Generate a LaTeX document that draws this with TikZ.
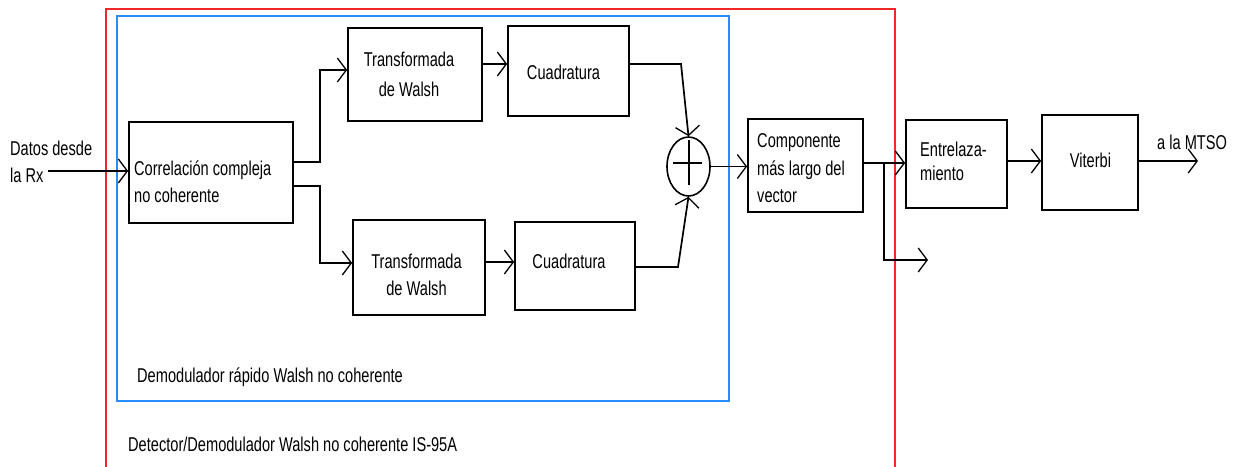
\documentclass[tikz,border=0pt]{standalone}
\usepackage{fontspec}
\newfontfamily\lbf[FakeStretch=0.73]{Liberation Sans}
\usetikzlibrary{arrows.meta,shapes.geometric}
\definecolor{redframe}{RGB}{240,40,40}
\definecolor{blueframe}{RGB}{40,140,255}
\begin{document}
\begin{tikzpicture}[x=1pt,y=-1pt,
  box/.style={draw, line width=1.7pt, inner sep=0pt},
  lbl/.style={font=\lbf\fontsize{20}{27}\selectfont, inner sep=0pt},
  ln/.style={line width=1.6pt},
  arr/.style={line width=1.7pt, -{Straight Barb[length=9pt,width=24pt,line width=1.3pt]}}]
\useasboundingbox (0,0) rectangle (1236,466);
% frames
\draw[redframe, line width=1.6pt] (106,470) -- (106,9) -- (895,9) -- (895,470);
\draw[blueframe, line width=1.6pt] (117,16) rectangle (729,401);
% boxes
\node[box, minimum width=164pt, minimum height=101pt] (corr) at (211,172.5) {};
\node[box, minimum width=134pt, minimum height=93pt] (tw1) at (415,74.5) {};
\node[box, minimum width=121pt, minimum height=90pt] (cu1) at (568.5,71) {};
\node[box, minimum width=132pt, minimum height=95pt] (tw2) at (419,267.5) {};
\node[box, minimum width=120pt, minimum height=88pt] (cu2) at (575,266) {};
\node[draw, line width=1.6pt, ellipse, inner sep=0pt, minimum width=43pt, minimum height=59pt] (sum) at (688.5,166.5) {};
\node[box, minimum width=115pt, minimum height=93pt] (comp) at (805.5,165.5) {};
\node[box, minimum width=101pt, minimum height=88pt] (ent) at (956.5,164) {};
\node[box, minimum width=96pt, minimum height=95pt] (vit) at (1090,162.5) {};
% plus sign
\draw[ln] ([shift={(-15.5,-3.5)}]sum.center) -- ([shift={(13.5,-3.5)}]sum.center);
\draw[ln] ([shift={(0.5,-26.5)}]sum.center) -- ([shift={(0.5,18.5)}]sum.center);
% labels
\node[lbl, anchor=north west, align=left] (datos) at (10,140.5) {Datos desde\\la Rx};
\node[lbl, anchor=north west, align=left] (corrT) at (134,160.5) {Correlación compleja\\no coherente};
\node[lbl, anchor=north, align=center] (tw1T) at (409,51.5) {Transformada\\[3pt]de Walsh};
\node[lbl, anchor=base] (cu1T) at (563.5,79) {Cuadratura};
\node[lbl, anchor=north, align=center] (tw2T) at (416.5,253.5) {Transformada\\de Walsh};
\node[lbl, anchor=base] (cu2T) at (569,268) {Cuadratura};
\node[lbl, anchor=north west, align=left] (compT) at (757,133.5) {Componente\\[1pt]más largo del\\vector};
\node[lbl, anchor=north west, align=left] (entT) at (920,141.5) {Entrelaza-\\[-3pt]miento};
\node[lbl, anchor=base] (vitT) at (1090.5,167) {Viterbi};
\node[lbl, anchor=base west] (mtso) at (1157,149) {a la MTSO};
\node[lbl, anchor=base west] (demod) at (137,382) {Demodulador rápido Walsh no coherente};
\node[lbl, anchor=base west] (det) at (128,451) {Detector/Demodulador Walsh no coherente IS-95A};
% connector helper coordinates
\coordinate (src) at (48,171);
\coordinate (j1) at (320,162);
\coordinate (j2) at (320,186);
\coordinate (k1) at (681,64);
\coordinate (k2) at (678,267);
\coordinate (br) at (884,163);
\coordinate (out2) at (928,260);
\coordinate (out1) at (1198,161);
% connectors
\draw[arr] (src) -- (src -| corr.west);
\draw[arr] (corr.east |- j1) -- (j1) |- (tw1.west |- 0,70);
\draw[arr] (corr.east |- j2) -- (j2) |- (tw2.west |- 0,263);
\draw[arr] (tw1.east |- 0,64) -- (cu1.west |- 0,64);
\draw[arr] (tw2.east |- 0,262) -- (cu2.west |- 0,262);
\draw[arr] (cu1.east |- k1) -- (k1) -- (sum.north);
\draw[arr] (cu2.east |- k2) -- (k2) -- (sum.south);
\draw[arr] (sum.east) -- (sum.east -| comp.west);
\draw[arr] (comp.east |- br) -- (br -| ent.west);
\draw[arr] (br) |- (out2);
\draw[arr] (ent.east |- 0,161) -- (vit.west |- 0,161);
\draw[arr] (vit.east |- out1) -- (out1);
\end{tikzpicture}
\end{document}
